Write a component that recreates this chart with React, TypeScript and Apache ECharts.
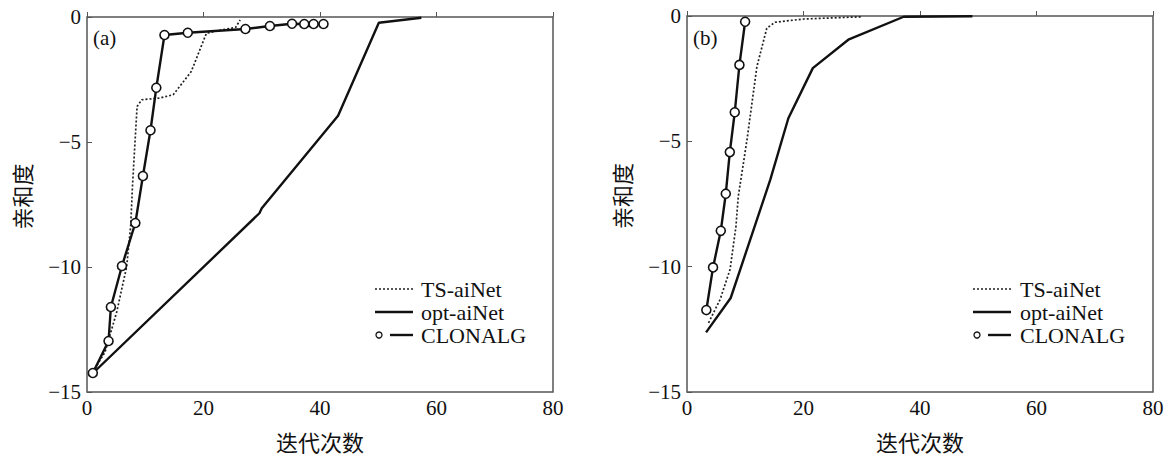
import React, { useEffect, useRef } from "react";
import * as echarts from "echarts";

// Panel (a)
const aTsX = [1.0, 3.1, 5.1, 6.8, 7.5, 7.8, 8.2, 8.6, 9.4, 12.5, 14.8, 17.9, 20.5, 23.0, 25.5, 26.3];
const aTsY = [-14.2, -13.4, -11.8, -10.0, -8.36, -6.8, -5.17, -3.58, -3.31, -3.24, -3.11, -2.18, -0.65, -0.52, -0.42, -0.12];
const aOptX = [1.0, 29.6, 30.0, 43.1, 50.1, 57.4];
const aOptY = [-14.25, -7.85, -7.65, -3.95, -0.23, -0.03];
const aCloX = [1.0, 3.7, 4.1, 6.0, 8.3, 9.6, 10.9, 11.9, 13.3, 17.3, 27.2, 31.4, 35.2, 37.3, 38.9, 40.6];
const aCloY = [-14.24, -12.96, -11.6, -9.96, -8.24, -6.36, -4.53, -2.83, -0.72, -0.63, -0.48, -0.36, -0.27, -0.28, -0.28, -0.28];

// Panel (b)
const bTsX = [3.7, 5.7, 7.4, 8.4, 8.8, 10.3, 12.0, 13.7, 15.1, 20.0, 30.1];
const bTsY = [-12.24, -11.3, -10.1, -8.4, -7.2, -4.94, -2.02, -0.49, -0.25, -0.12, -0.03];
const bOptX = [3.27, 7.5, 14.3, 17.4, 21.6, 27.8, 37.2, 49.0];
const bOptY = [-12.62, -11.25, -6.53, -4.08, -2.08, -0.93, -0.03, -0.01];
const bCloX = [3.32, 4.47, 5.8, 6.66, 7.35, 8.2, 9.0, 9.98];
const bCloY = [-11.73, -10.03, -8.57, -7.09, -5.43, -3.84, -1.95, -0.23];

const seriesNames = ["TS-aiNet", "opt-aiNet", "CLONALG"];
const panelLabels = ["(a)", "(b)"];
const xName = "迭代次数";
const yName = "亲和度";

const zip = (xs: number[], ys: number[]) => xs.map((x, i) => [x, ys[i]]);

const SERIF = "'Liberation Serif', 'DejaVu Serif', serif";
const CJK = "'Noto Sans CJK SC', sans-serif";

export default function App() {
  const ref = useRef<HTMLDivElement>(null);
  useEffect(() => {
    if (!ref.current) return;
    const chart = echarts.init(ref.current, null, { renderer: "svg" });
    const grids = [
      { left: 87, top: 17, width: 466, height: 376 },
      { left: 687, top: 16, width: 466, height: 376 },
    ];
    const xAxes = grids.map((_, i) => ({
      type: "value",
      gridIndex: i,
      min: 0,
      max: 80,
      interval: 20,
      name: xName,
      nameLocation: "middle",
      nameGap: 38,
      nameTextStyle: { fontFamily: CJK, fontSize: 22, color: "#111" },
      axisLine: { show: false },
      axisTick: { show: true, inside: true, length: 5, lineStyle: { color: "#555" } },
      axisLabel: { fontFamily: SERIF, fontSize: 21, color: "#111", margin: 6 },
      splitLine: { show: false },
    }));
    const yAxes = grids.map((_, i) => ({
      type: "value",
      gridIndex: i,
      min: -15,
      max: 0,
      interval: 5,
      name: yName,
      nameLocation: "middle",
      nameGap: 55,
      nameTextStyle: { fontFamily: CJK, fontSize: 22, color: "#111", padding: [0, 0, 0, 16] },
      axisLine: { show: false },
      axisTick: { show: true, inside: true, length: 5, lineStyle: { color: "#555" } },
      axisLabel: {
        fontFamily: SERIF,
        fontSize: 21,
        color: "#111",
        margin: 6,
        formatter: (v: number) => (v < 0 ? "\u2212" + Math.abs(v) : String(v)),
      },
      splitLine: { show: false },
    }));

    const mk = (idx: number, ts: number[][], opt: number[][], clo: number[][]) => [
      {
        name: seriesNames[0],
        type: "line",
        xAxisIndex: idx,
        yAxisIndex: idx,
        data: ts,
        showSymbol: false,
        symbol: "none",
        lineStyle: { color: "#222", width: 1.7, type: [2, 2] },
      },
      {
        name: seriesNames[1],
        type: "line",
        xAxisIndex: idx,
        yAxisIndex: idx,
        data: opt,
        symbol: "none",
        lineStyle: { color: "#111", width: 2.4 },
      },
      {
        name: seriesNames[2],
        type: "line",
        xAxisIndex: idx,
        yAxisIndex: idx,
        data: clo,
        symbol: "circle",
        symbolSize: 9,
        itemStyle: { color: "#fff", borderColor: "#111", borderWidth: 1.6 },
        lineStyle: { color: "#111", width: 2.4 },
      },
    ];

    const legendAt = (lx: number, tx: number) => {
      const rows = [289, 312, 335];
      const els: any[] = [];
      els.push({ type: "line", shape: { x1: lx, y1: rows[0], x2: lx + 38, y2: rows[0] }, style: { stroke: "#222", lineWidth: 1.7, lineDash: [2, 2] } });
      els.push({ type: "line", shape: { x1: lx, y1: rows[1], x2: lx + 38, y2: rows[1] }, style: { stroke: "#111", lineWidth: 2.4 } });
      els.push({ type: "circle", shape: { cx: lx + 4, cy: rows[2], r: 3 }, style: { fill: "#fff", stroke: "#111", lineWidth: 1.3 } });
      els.push({ type: "line", shape: { x1: lx + 15, y1: rows[2], x2: lx + 38, y2: rows[2] }, style: { stroke: "#111", lineWidth: 2.4 } });
      seriesNames.forEach((n, i) => {
        els.push({
          type: "text",
          x: tx,
          y: rows[i],
          style: { text: n, fontFamily: SERIF, fontSize: 22, fill: "#111", verticalAlign: "middle" },
        });
      });
      return els;
    };

    chart.setOption({
      animation: false,
      backgroundColor: "#fff",
      grid: grids.map((g) => ({ ...g, show: true, borderColor: "#555", borderWidth: 1.5, backgroundColor: "transparent" })),
      xAxis: xAxes,
      yAxis: yAxes,
      series: [
        ...mk(0, zip(aTsX, aTsY), zip(aOptX, aOptY), zip(aCloX, aCloY)),
        ...mk(1, zip(bTsX, bTsY), zip(bOptX, bOptY), zip(bCloX, bCloY)),
      ],
      graphic: [
        { type: "text", x: 93, y: 38, style: { text: panelLabels[0], fontFamily: SERIF, fontSize: 21, fill: "#111", verticalAlign: "middle" } },
        { type: "text", x: 693, y: 38, style: { text: panelLabels[1], fontFamily: SERIF, fontSize: 21, fill: "#111", verticalAlign: "middle" } },
        ...legendAt(375, 421),
        ...legendAt(973, 1020),
      ],
    });
    return () => chart.dispose();
  }, []);
  return <div ref={ref} style={{ position: "fixed", left: 0, top: 0, width: 1169, height: 457 }} />;
}
